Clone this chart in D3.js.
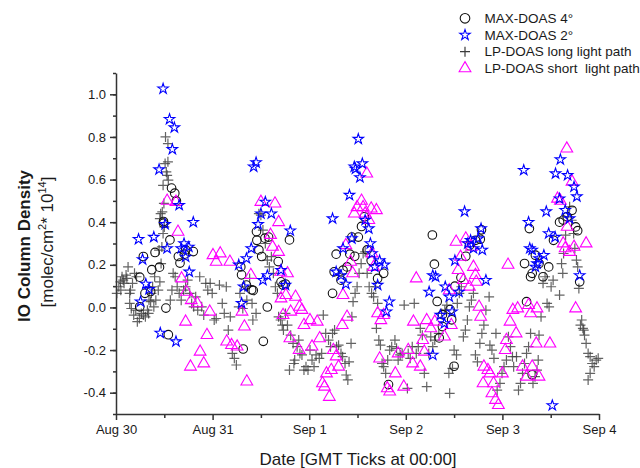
<!DOCTYPE html>
<html>
<head>
<meta charset="utf-8">
<title>IO Column Density</title>
<style>
  body { margin: 0; background: #fff; }
  svg text { font-family: "Liberation Sans", Arial, sans-serif; fill: #1a1a1a; }
  .axis path, .axis line { fill: none; stroke: #333; stroke-width: 1.5px; }
</style>
</head>
<body>
<script src="https://cdn.jsdelivr.net/npm/d3@7/dist/d3.min.js"></script>
<script>

// x values are hours after Aug 30 00:00 GMT, y values IO column density (1e14 molec/cm2)
var dayLabels = ["Aug 30", "Aug 31", "Sep 1", "Sep 2", "Sep 3", "Sep 4"];
var yTicks = [-0.4, -0.2, 0.0, 0.2, 0.4, 0.6, 0.8, 1.0];

var maxdoas4 = [
  [6.8,0.239],[5.9,0.142],[5.9,0.003],[7.2,0.066],[8.9,0.177],[9.7,0.258],[10.8,0.189],[8.6,0.075],
  [11.8,0.403],[11.8,0.395],[12.4,-0.003],[13.0,-0.128],[13.4,0.317],[13.8,0.56],[14.6,0.536],[15.0,0.5],
  [15.5,0.239],[15.9,0.208],[17.3,0.27],[19.2,0.262],[17.0,0.25],
  [31.0,0.19],[31.2,0.153],[31.6,-0.195],[32.4,0.105],[33.7,0.083],[34.1,0.08],[34.9,0.356],[35.0,0.315],
  [35.5,0.27],[36.2,0.239],[36.6,-0.159],[37.0,0.325],[37.6,0.002],[37.9,0.33],[40.3,0.215],[41.0,0.12],
  [41.5,0.105],[42.1,0.11],[43.1,0.317],
  [53.8,0.066],[54.2,0.167],[54.7,0.25],[55.9,0.128],[56.4,0.175],[57.4,0.19],[58.1,0.25],[58.6,0.33],
  [59.3,0.24],[60.2,0.33],[61.0,0.38],[61.7,0.425],[62.4,0.27],[63.4,0.22],[65.0,0.136],[66.5,0.16],[67.7,-0.362],
  [78.6,0.34],[79.1,0.203],[79.8,0.028],[80.3,-0.143],[81.1,-0.034],[81.1,-0.09],[83.0,-0.01],[83.4,-0.058],
  [84.0,-0.276],[84.2,0.1],[85.7,0.14],[86.9,0.24],[87.8,0.29],[89.3,0.315],[90.8,0.364],[90.5,0.32],
  [101.5,0.206],[102.0,0.027],[102.7,0.37],[103.0,0.144],[103.4,0.16],[104.2,0.245],[105.1,0.206],[106.1,0.144],
  [107.5,0.19],[108.7,0.315],[110.2,0.4],[111.1,0.41],[112.1,0.425],[113.3,0.456],[114.2,0.378],[114.7,0.36],
  [115.2,0.12],[103.4,-0.316]
];

var maxdoas2 = [
  [5.6,0.32],[6.6,0.225],[6.1,0.027],[7.4,0.11],[8.2,0.085],[9.4,0.33],[10.7,0.647],[11.0,-0.12],[11.7,1.026],
  [12.2,0.39],[12.7,0.277],[13.3,0.883],[14.0,0.742],[14.5,0.844],[14.9,-0.16],[15.7,0.48],[16.2,0.277],
  [16.9,0.3],[17.3,0.237],[18.1,0.284],[18.2,0.167],[19.2,0.4],
  [30.5,0.2],[31.2,0.02],[31.7,0.097],[32.4,0.23],[33.6,0.277],[34.2,0.66],[34.8,0.68],[35.3,0.39],[36.0,0.44],
  [36.5,0.128],[37.1,0.495],[37.6,0.15],[38.6,0.44],[41.0,0.175],[42.1,0.105],[43.3,0.36],
  [53.8,0.417],[54.7,0.167],[55.9,0.15],[56.4,0.277],[57.1,0.11],[58.0,0.527],[58.6,0.323],[59.2,0.66],[59.5,0.65],
  [60.2,0.79],[60.6,0.61],[61.2,0.675],[61.9,0.41],[62.8,0.37],[63.2,0.3],[63.6,0.253],[64.3,0.19],[65.5,0.22],
  [66.7,0.2],[67.9,0.027],[67.2,-0.02],[65.0,0.105],
  [77.8,0.073],[78.7,0.15],[79.4,0.144],[78.7,-0.223],[80.6,-0.036],[81.6,-0.075],[81.8,0.097],[82.8,0.05],
  [83.5,-0.02],[84.2,0.22],[85.2,0.073],[86.6,0.45],[87.4,0.3],[88.1,0.315],[88.8,0.277],[90.0,0.323],[91.0,0.27],
  [91.9,0.128],[90.7,0.37],
  [101.3,0.644],[102.5,0.4],[102.8,0.277],[103.4,0.27],[104.2,0.19],[104.6,0.206],[105.1,0.23],[106.3,0.245],
  [106.9,0.45],[107.5,0.347],[108.4,-0.46],[109.1,0.33],[109.2,0.628],[110.4,0.694],[111.6,0.456],[112.2,0.62],
  [112.7,0.417],[113.8,0.566],[114.5,0.52],[115.2,0.15],[110.2,0.51]
];

var lpLong = [
  [0.2,0.066],[0.7,0.097],[1.1,0.12],[1.5,0.144],[2.0,0.113],[2.5,0.152],[3.0,0.19],[3.6,0.081],[1.2,0.081],
  [1.8,0.128],[2.7,0.136],[3.4,0.066],[4.1,0.113],[4.6,0.16],[5.1,0.144],[3.4,0.019],[3.8,-0.005],[4.4,-0.036],
  [4.9,-0.013],[5.3,-0.067],[5.8,-0.052],[6.3,-0.028],[6.8,-0.036],[7.3,-0.044],[7.8,-0.013],[8.2,0.034],
  [8.8,0.066],[9.1,0.097],[9.6,0.144],[8.6,0.027],[8.1,-0.028],[9.4,0.003],[9.9,0.034],[10.5,0.081],[10.9,0.12],
  [11.2,0.206],[11.4,0.284],[11.7,0.347],[12.0,0.378],[11.5,0.448],[11.9,0.488],[12.2,0.675],[12.5,0.636],
  [12.7,0.62],[12.9,0.683],[13.0,0.597],[12.3,0.8],[12.9,0.769],[11.7,0.573],[11.1,0.44],[10.9,0.417],[10.7,0.269],
  [13.5,0.034],[13.9,0.081],[14.2,0.16],[14.7,0.144],[15.2,0.097],[15.7,0.066],[16.2,0.034],[16.8,0.081],
  [17.3,0.097],[17.8,0.128],[18.3,0.066],[18.8,0.019],[19.3,0.003],[19.8,0.05],[20.3,-0.013],[20.8,0.144],
  [21.3,0.003],[21.8,-0.036],[22.3,0.113],[22.8,0.081],[23.4,0.113],[23.9,0.066],[24.4,-0.059],[24.9,-0.052],
  [25.7,0.105],[26.4,0.019],[26.9,-0.028],[27.4,0.097],[27.9,-0.106],[28.4,-0.044],[28.9,-0.216],[29.4,-0.239],
  [29.9,-0.27],[30.5,0.003],[30.8,0.066],[31.5,-0.005],[32.0,0.097],[32.5,0.034],[33.2,0.136],[33.8,0.019],
  [34.0,-0.059],[34.8,-0.028],[35.5,0.44],[36.0,0.433],[36.5,0.363],[37.1,0.3],[37.6,0.222],[38.1,0.19],
  [38.6,0.238],[39.1,0.16],[39.6,0.097],[40.1,0.066],[40.4,-0.044],[40.9,-0.059],[41.3,-0.083],[41.6,-0.106],
  [42.1,-0.028],[42.6,-0.083],[43.4,-0.13],[44.0,-0.169],[43.1,-0.294],[44.2,-0.263],[44.4,-0.247],[45.0,-0.184],
  [45.4,-0.153],[45.7,-0.216],[46.2,-0.223],[46.7,-0.294],[47.2,-0.278],[47.7,-0.294],[48.2,-0.2],[48.7,-0.247],
  [49.2,-0.278],[49.7,-0.223],[50.5,-0.239],[51.1,-0.216],[51.5,-0.036],[52.1,-0.122],[52.8,-0.153],[53.3,-0.184],
  [53.8,-0.122],[54.3,-0.106],[54.8,-0.184],[55.3,-0.177],[55.9,-0.216],[56.3,-0.231],[56.9,-0.263],[57.2,-0.317],
  [57.6,-0.34],[57.9,-0.255],[58.4,-0.169],[58.6,-0.044],[58.9,0.027],[59.4,0.066],[59.9,0.097],[60.4,0.16],
  [60.9,0.206],[61.4,0.253],[61.9,0.261],[62.4,0.16],[62.9,0.097],[63.5,0.066],[64.0,0.05],[64.5,0.097],
  [65.0,0.019],[64.7,-0.098],[65.3,-0.153],[65.7,-0.177],[66.1,-0.263],[66.5,-0.278],[67.0,-0.309],[67.5,-0.247],
  [68.0,-0.2],[68.5,-0.184],[69.3,-0.153],[69.7,-0.192],[70.1,-0.247],[70.6,-0.223],[71.1,-0.216],[71.6,0.011],
  [72.4,-0.38],[72.6,-0.216],[73.1,-0.239],[73.6,-0.184],[74.1,0.019],[74.6,-0.216],[75.1,-0.184],[75.6,-0.098],
  [76.1,-0.13],[76.6,-0.309],[77.2,-0.372],[77.7,-0.216],[78.2,-0.138],[78.7,-0.184],[79.2,-0.153],[80.2,-0.122],
  [80.9,-0.028],[81.7,-0.013],[82.2,0.011],[82.7,-0.309],[82.9,-0.403],[83.6,-0.286],[84.0,-0.2],[84.6,-0.223],
  [84.8,0.019],[85.3,0.066],[85.8,0.097],[86.3,-0.138],[86.8,-0.106],[87.3,-0.059],[87.8,0.003],[88.3,0.034],
  [88.8,0.066],[89.3,-0.223],[89.8,-0.255],[90.4,-0.169],[90.9,-0.122],[91.4,-0.083],[91.9,-0.013],[92.7,0.05],
  [92.9,-0.177],[93.4,-0.2],[93.9,-0.239],[94.4,-0.122],[94.7,-0.388],[95.4,-0.356],[95.9,-0.309],[96.4,-0.278],
  [97.0,-0.247],[97.5,-0.138],[98.0,-0.184],[98.5,-0.231],[98.8,-0.278],[99.5,-0.231],[100.0,-0.388],
  [100.5,-0.356],[101.0,-0.309],[101.5,-0.263],[102.0,-0.216],[102.5,-0.184],[103.0,-0.122],[103.6,-0.356],
  [104.1,-0.325],[104.6,-0.294],[104.9,-0.247],[105.1,-0.13],[105.6,-0.044],[106.1,0.113],[106.6,0.144],
  [107.1,0.019],[107.6,0.003],[108.1,0.097],[108.6,0.128],[110.2,0.058],[110.7,0.206],[111.0,0.16],[111.2,0.253],
  [111.7,0.339],[112.2,0.425],[112.7,0.472],[113.2,0.409],[113.7,0.347],[114.0,0.277],[114.4,0.222],[114.7,0.19],
  [115.0,0.089],[115.4,-0.083],[115.7,-0.059],[116.0,-0.098],[116.2,-0.106],[116.4,-0.13],[116.8,-0.169],
  [117.3,-0.216],[117.8,-0.231],[118.3,-0.263],[118.8,-0.278],[119.3,-0.247],[119.8,-0.239],[117.3,-0.34],
  [117.8,-0.309]
];

var lpShort = [
  [12.7,0.5],[14.9,0.495],[15.4,0.355],[16.3,0.136],[17.5,0.073],[17.3,-0.067],[18.7,0.034],[20.2,0.019],
  [20.9,-0.208],[18.5,-0.278],[21.8,-0.263],[22.6,-0.13],[23.3,-0.02],[24.1,0.245],[24.9,0.214],[25.9,0.253],
  [27.5,-0.16],[28.3,0.214],[28.7,-0.177],[30.1,-0.184],[31.3,-0.02],[31.9,-0.09],[32.5,-0.348],[33.5,0.152],
  [36.0,0.495],[38.4,0.34],[38.9,0.284],[39.5,0.487],[40.4,0.4],[40.4,0.26],[40.9,0.167],[41.0,0.042],
  [41.5,-0.036],[42.2,0.058],[42.6,0.16],[43.2,-0.145],[43.4,-0.02],[44.6,0.05],[45.6,0.003],[46.2,-0.012],
  [45.5,-0.2],[46.7,-0.083],[48.2,-0.06],
  [48.7,-0.184],[50.0,-0.067],[50.6,-0.145],[51.3,-0.356],[51.8,-0.372],[52.3,-0.31],[53.0,-0.42],[53.5,-0.294],
  [54.0,-0.2],[54.7,-0.23],[55.3,-0.278],[56.2,-0.083],[56.4,0.058],[57.4,-0.044],[57.1,0.292],[58.3,0.214],
  [58.8,0.16],[59.2,0.44],[59.9,0.47],[61.0,0.5],[61.4,0.47],[61.9,0.44],[62.3,0.628],[62.8,0.41],[63.4,0.464],
  [64.7,0.456],[63.6,0.253],[64.0,0.19],[65.0,-0.028],[65.8,-0.06],[66.5,-0.036],[65.5,-0.24],[67.4,-0.38],
  [68.0,-0.395],[69.4,-0.31],[70.1,-0.216],[71.5,-0.372],
  [72.6,-0.2],[73.7,-0.263],[73.9,-0.067],[74.6,0.136],[75.6,-0.278],[76.2,-0.153],[76.6,-0.208],[77.2,-0.06],
  [78.2,-0.098],[79.2,-0.067],[81.6,-0.137],[82.8,0.08],[83.3,-0.083],[84.5,0.308],[85.0,0.175],[85.6,0.237],
  [86.3,0.128],[86.9,0.323],[87.8,0.097],[88.3,0.284],[88.8,0.19],[89.3,0.152],[89.5,0.12],[90.2,0.003],
  [90.6,-0.044],[91.4,-0.278],[91.2,-0.356],[92.4,-0.294],[92.9,-0.31],[93.4,-0.403],[93.8,-0.356],[94.3,-0.434],
  [95.0,-0.458],[96.0,-0.31],[96.7,-0.2],[97.0,-0.153],[97.4,0.2],[97.9,-0.067],[98.6,-0.012],[99.4,-0.122],
  [99.8,-0.005],[101.0,-0.278],[102.0,-0.325],[102.5,0.011],[103.0,-0.028],[103.4,-0.278],[104.6,-0.005],
  [105.1,-0.325],[104.4,-0.17],[107.8,-0.17],
  [109.7,0.51],[110.4,0.5],[112.0,0.745],[113.3,0.59],[111.1,0.3],[112.1,0.378],[111.6,0.277],[112.7,0.26],
  [113.8,0.284],[114.2,-0.005],[116.8,0.3]
];

var legendNames = ["MAX-DOAS 4\u00b0", "MAX-DOAS 2\u00b0", "LP-DOAS long light path", "LP-DOAS short  light path"];

var W = 640, H = 468;
var margin = {left: 116, right: 41, top: 73, bottom: 54};

var svg = d3.select("body").append("svg")
    .attr("width", W)
    .attr("height", H);

var x = d3.scaleLinear()
    .domain([0, 120])
    .range([margin.left, W - margin.right]);

var y = d3.scaleLinear()
    .domain([-0.5, 1.1])
    .range([H - margin.bottom, margin.top]);

// marker shapes
var starPath = d3.symbol().type(d3.symbolStar).size(34)();
var triPath = d3.symbol().type(d3.symbolTriangle).size(60)();
var plusPath = "M-5,0H5M0,-5V5";

// axes (major + minor ticks)
var xMajor = d3.range(dayLabels.length).map(function (i) { return i * 24; });
var xMinor = d3.range(12, 120, 24);
var yMinor = d3.range(-5, 12, 1).map(function (d) { return d / 10; });

svg.append("g")
    .attr("class", "axis")
    .attr("transform", "translate(0," + (H - margin.bottom) + ")")
    .call(d3.axisBottom(x).tickValues(xMinor).tickSize(4).tickFormat(""))
    .call(function (g) { g.select(".domain").remove(); });

svg.append("g")
    .attr("class", "axis")
    .attr("transform", "translate(0," + (H - margin.bottom) + ")")
    .call(d3.axisBottom(x).tickValues(xMajor).tickSizeInner(6).tickSizeOuter(0).tickPadding(5)
        .tickFormat(function (d, i) { return dayLabels[i]; }))
    .call(function (g) { g.selectAll("text").style("font-size", "13px"); });

svg.append("g")
    .attr("class", "axis")
    .attr("transform", "translate(" + margin.left + ",0)")
    .call(d3.axisLeft(y).tickValues(yMinor).tickSize(3).tickFormat(""))
    .call(function (g) { g.select(".domain").remove(); });

svg.append("g")
    .attr("class", "axis")
    .attr("transform", "translate(" + margin.left + ",0)")
    .call(d3.axisLeft(y).tickValues(yTicks).tickSizeInner(6).tickSizeOuter(0).tickPadding(4)
        .tickFormat(function (d) { return d.toFixed(1); }))
    .call(function (g) { g.selectAll("text").style("font-size", "13px"); });

// series
svg.append("g").selectAll("path")
    .data(lpLong).join("path")
    .attr("d", plusPath)
    .attr("transform", function (d) { return "translate(" + x(d[0]) + "," + y(d[1]) + ")"; })
    .attr("fill", "none")
    .attr("stroke", "#3c3c3c")
    .attr("stroke-opacity", 0.8)
    .attr("stroke-width", 1.2);

svg.append("g").selectAll("circle")
    .data(maxdoas4).join("circle")
    .attr("cx", function (d) { return x(d[0]); })
    .attr("cy", function (d) { return y(d[1]); })
    .attr("r", 4.3)
    .attr("fill", "none")
    .attr("stroke", "#111")
    .attr("stroke-width", 1.1);

svg.append("g").selectAll("path")
    .data(lpShort).join("path")
    .attr("d", triPath)
    .attr("transform", function (d) { return "translate(" + x(d[0]) + "," + y(d[1]) + ")"; })
    .attr("fill", "none")
    .attr("stroke", "#ff00ff")
    .attr("stroke-width", 1.1);

svg.append("g").selectAll("path")
    .data(maxdoas2).join("path")
    .attr("d", starPath)
    .attr("transform", function (d) { return "translate(" + x(d[0]) + "," + y(d[1]) + ")"; })
    .attr("fill", "none")
    .attr("stroke", "#0000ff")
    .attr("stroke-width", 1.1);

// axis titles
svg.append("text")
    .attr("x", 358)
    .attr("y", 465)
    .attr("text-anchor", "middle")
    .style("font-size", "17px")
    .text("Date [GMT Ticks at 00:00]");

var yt = svg.append("g").attr("transform", "translate(30,246) rotate(-90)");
yt.append("text")
    .attr("text-anchor", "middle")
    .style("font-size", "17px")
    .style("font-weight", "bold")
    .text("IO Column Density");

var yt2 = svg.append("g").attr("transform", "translate(53,242) rotate(-90)")
    .append("text")
    .attr("text-anchor", "middle")
    .style("font-size", "17px");
yt2.append("tspan").text("[molec/cm");
yt2.append("tspan").attr("dy", -7).style("font-size", "11px").text("2");
yt2.append("tspan").attr("dy", 7).text("* 10");
yt2.append("tspan").attr("dy", -7).style("font-size", "11px").text("14");
yt2.append("tspan").attr("dy", 7).text("]");

// legend
var legend = svg.append("g");
var legendMarks = [
  function (g) { g.append("circle").attr("r", 4.8).attr("fill", "none").attr("stroke", "#111").attr("stroke-width", 1.1); },
  function (g) { g.append("path").attr("d", starPath).attr("fill", "none").attr("stroke", "#0000ff").attr("stroke-width", 1.1); },
  function (g) { g.append("path").attr("d", plusPath).attr("fill", "none").attr("stroke", "#3c3c3c").attr("stroke-width", 1.2); },
  function (g) { g.append("path").attr("d", triPath).attr("fill", "none").attr("stroke", "#ff00ff").attr("stroke-width", 1.1); }
];
legendNames.forEach(function (name, i) {
  var row = legend.append("g").attr("transform", "translate(465," + (18.3 + i * 16.7) + ")");
  legendMarks[i](row);
  row.append("text")
      .attr("x", 19.5)
      .attr("dy", "0.35em")
      .style("font-size", "13.5px")
      .style("white-space", "pre")
      .text(name);
});

</script>
</body>
</html>
